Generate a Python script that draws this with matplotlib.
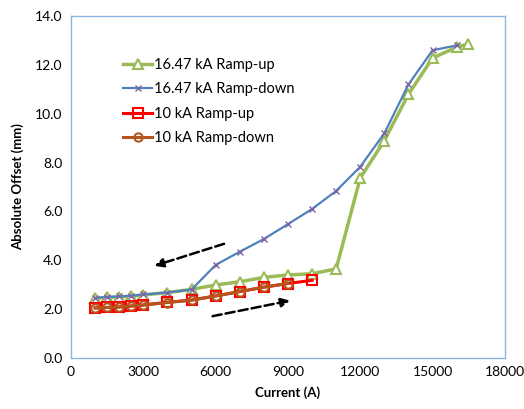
import numpy as np
import matplotlib.pyplot as plt

plt.rcParams['font.family'] = ['Lato', 'DejaVu Sans']

# currents (A)
cur_up16 = [1000, 1500, 2000, 2500, 3000, 4000, 5000, 6000, 7000, 8000, 9000,
            10000, 11000, 12000, 13000, 14000, 15000, 16000, 16470]
off_up16 = [2.45, 2.48, 2.5, 2.53, 2.58, 2.68, 2.81, 2.99, 3.12, 3.3, 3.4,
            3.45, 3.65, 7.37, 8.9, 10.8, 12.28, 12.73, 12.85]

cur_dn16 = [16000, 15000, 14000, 13000, 12000, 11000, 10000, 9000, 8000, 7000,
            6000, 5000, 4000, 3000, 2500, 2000, 1500, 1000]
off_dn16 = [12.8, 12.6, 11.2, 9.2, 7.83, 6.84, 6.1, 5.48, 4.87, 4.35,
            3.81, 2.8, 2.68, 2.6, 2.55, 2.52, 2.5, 2.46]

cur_up10 = [1000, 1500, 2000, 2500, 3000, 4000, 5000, 6000, 7000, 8000, 9000, 10000]
off_up10 = [2.05, 2.07, 2.09, 2.13, 2.17, 2.28, 2.37, 2.54, 2.72, 2.9, 3.05, 3.18]

cur_dn10 = [9000, 8000, 7000, 6000, 5000, 4000, 3000, 2500, 2000, 1500, 1000]
off_dn10 = [3.05, 2.9, 2.72, 2.54, 2.37, 2.27, 2.17, 2.13, 2.09, 2.07, 2.05]

fig = plt.figure(figsize=(5.24, 4.09), dpi=100)
ax = fig.add_axes([0.1355, 0.1247, 0.828, 0.836])

ax.plot(cur_up16, off_up16, color='#9BBB59', lw=2.5, marker='^', ms=7,
        mfc='white', mec='#9BBB59', mew=1.5, label='16.47 kA Ramp-up')
ax.plot(cur_dn16, off_dn16, color='#4F81BD', lw=1.6, marker='x', ms=5,
        mec='#8064A2', mew=1, label='16.47 kA Ramp-down')
ax.plot(cur_up10, off_up10, color='#FF0000', lw=2.2, marker='s', ms=7,
        mfc='none', mec='#FF0000', mew=1.5, label='10 kA Ramp-up')
ax.plot(cur_dn10, off_dn10, color='#B5541C', lw=2.2, marker='o', ms=6,
        mfc='none', mec='#B5541C', mew=1.5, label='10 kA Ramp-down')

# direction arrows
ax.annotate('', xy=(3350, 3.74), xytext=(6460, 4.71),
            arrowprops=dict(arrowstyle='-|>', color='black', lw=1.8, ls='--',
                            mutation_scale=13))
ax.annotate('', xy=(9200, 2.37), xytext=(5760, 1.69),
            arrowprops=dict(arrowstyle='-|>', color='black', lw=1.8, ls='--',
                            mutation_scale=13))

ax.set_xlim(0, 18000)
ax.set_ylim(0, 14)
ax.set_xticks(np.arange(0, 18001, 3000))
ax.set_yticks(np.arange(0, 14.1, 2))
ax.set_yticklabels(['%.1f' % v for v in np.arange(0, 14.1, 2)])
ax.tick_params(length=0, labelsize=10, pad=6)
for s in ax.spines.values():
    s.set_color('#8EB4E3')
    s.set_linewidth(1)

ax.set_xlabel('Current (A)', fontsize=9.5, fontweight='bold', labelpad=6)
ax.set_ylabel('Absolute Offset (mm)', fontsize=9.5, fontweight='bold', labelpad=8)

ax.legend(loc='upper left', bbox_to_anchor=(0.09, 0.915), frameon=False,
          fontsize=10.5, handlelength=2.0, handletextpad=0.1, labelspacing=0.7)

fig.savefig('out.png', dpi=100)
